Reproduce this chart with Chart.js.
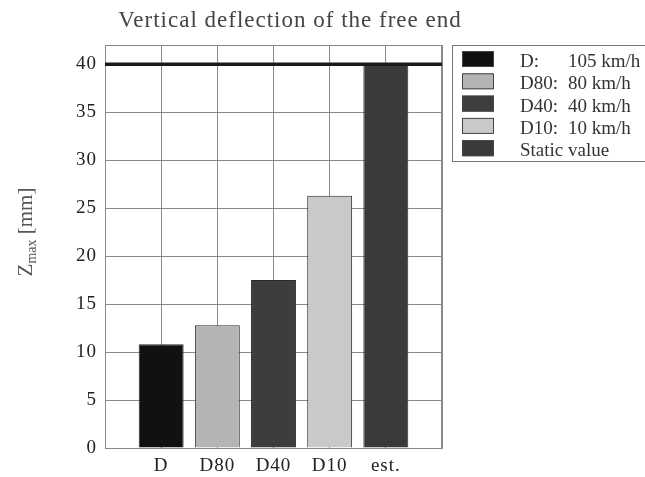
<!DOCTYPE html>
<html>
<head>
<meta charset="utf-8">
<script src="https://cdn.jsdelivr.net/npm/chart.js@4.4.1/dist/chart.umd.min.js"></script>
<style>
    html, body { margin: 0; padding: 0; background: #fff; }
    #wrap { position: relative; width: 645px; height: 477px; }
</style>
</head>
<body>
<div id="wrap"><canvas id="deflectionChart"></canvas></div>
<script>
// Chart data
const categories = ['', 'D', 'D80', 'D40', 'D10', 'est.', ''];
const deflection = [null, 10.8, 12.8, 17.5, 26.3, 40, null];
const staticValue = [40, 40, 40, 40, 40, 40, 40];
const barColors = ['#ffffff', '#111111', '#b4b4b4', '#3d3d3d', '#c9c9c9', '#3a3a3a', '#ffffff'];
const legendNames = ['D:', 'D80:', 'D40:', 'D10:', 'Static value'];
const legendSpeeds = ['105 km/h', '80 km/h', '40 km/h', '10 km/h', ''];
const legendColors = ['#111111', '#b4b4b4', '#3d3d3d', '#c9c9c9', '#3a3a3a'];
const titleText = 'Vertical deflection of the free end';

const SERIF = '"Liberation Serif", "Times New Roman", serif';

// title, y axis title with subscript, frame and legend box
const decorPlugin = {
    id: 'decor',
    beforeDraw(chart) {
        chart.ctx.letterSpacing = '1px';
    },
    beforeDatasetsDraw(chart) {
        const ctx = chart.ctx;
        const a = chart.chartArea;
        ctx.letterSpacing = '0px';
        ctx.save();
        ctx.strokeStyle = '#8a8a8a';
        ctx.lineWidth = 1;
        ctx.strokeRect(a.left + 0.5, a.top + 0.5, a.right - a.left - 1, a.bottom - a.top);
        ctx.restore();
    },
    afterDraw(chart) {
        const ctx = chart.ctx;

        // title
        ctx.save();
        ctx.font = '23px ' + SERIF;
        ctx.letterSpacing = '1px';
        ctx.fillStyle = '#444';
        ctx.textAlign = 'center';
        ctx.textBaseline = 'alphabetic';
        ctx.fillText(titleText, 290, 27);
        ctx.restore();

        // y axis title: Z_max [mm]
        ctx.save();
        ctx.translate(26, 232);
        ctx.rotate(-Math.PI / 2);
        ctx.fillStyle = '#555';
        ctx.textBaseline = 'middle';
        ctx.textAlign = 'left';
        const big = '21px ' + SERIF;
        const small = '14px ' + SERIF;
        ctx.font = big;
        const wZ = ctx.measureText('Z').width;
        const wRest = ctx.measureText(' [mm]').width;
        ctx.font = small;
        const wSub = ctx.measureText('max').width;
        let x = -(wZ + wSub + wRest) / 2;
        ctx.font = big;
        ctx.fillText('Z', x, 0);
        x += wZ;
        ctx.font = small;
        ctx.fillText('max', x, 6);
        x += wSub;
        ctx.font = big;
        ctx.fillText(' [mm]', x, 0);
        ctx.restore();

        // legend
        ctx.save();
        ctx.strokeStyle = '#777';
        ctx.lineWidth = 1;
        ctx.strokeRect(452.5, 45.5, 220, 116);
        ctx.font = '19px ' + SERIF;
        ctx.textBaseline = 'alphabetic';
        legendNames.forEach((name, i) => {
            const top = 51 + i * 22.3;
            ctx.fillStyle = legendColors[i];
            ctx.fillRect(462, top, 32, 16);
            ctx.strokeStyle = '#444';
            ctx.strokeRect(462.5, top + 0.5, 31, 15);
            ctx.fillStyle = '#333';
            ctx.fillText(name, 520, top + 16);
            if (legendSpeeds[i]) ctx.fillText(legendSpeeds[i], 568, top + 16);
        });
        ctx.restore();
    }
};

const ctx = document.getElementById('deflectionChart');

new Chart(ctx, {
    data: {
        labels: categories,
        datasets: [{
            type: 'line',
            label: 'Static value',
            data: staticValue,
            borderColor: '#1a1a1a',
            borderWidth: 3.5,
            pointRadius: 0,
            order: 0
        }, {
            type: 'bar',
            label: 'Deflection',
            data: deflection,
            backgroundColor: barColors,
            borderColor: '#2a2a2a',
            borderWidth: 1,
            categoryPercentage: 1,
            barPercentage: 0.8,
            order: 1
        }]
    },
    options: {
        responsive: true,
        maintainAspectRatio: false,
        animation: false,
        layout: {
            padding: { top: 45, right: 203, bottom: 0, left: 0 }
        },
        plugins: {
            legend: { display: false },
            title: { display: false },
            tooltip: { enabled: false }
        },
        scales: {
            x: {
                offset: false,
                grid: {
                    offset: false,
                    color: '#8a8a8a',
                    drawTicks: false
                },
                border: { color: '#8a8a8a' },
                ticks: {
                    color: '#222',
                    padding: 7,
                    autoSkip: false,
                    maxRotation: 0,
                    font: { family: SERIF, size: 19 }
                },
                afterFit(scale) { scale.height = 29; }
            },
            y: {
                min: 0,
                max: 42,
                bounds: 'data',
                grid: {
                    color: '#8a8a8a',
                    drawTicks: false
                },
                border: { color: '#8a8a8a' },
                ticks: {
                    stepSize: 5,
                    color: '#222',
                    padding: 8,
                    font: { family: SERIF, size: 19 }
                },
                afterBuildTicks(scale) {
                    scale.ticks = scale.ticks.filter(t => t.value % 5 === 0);
                },
                afterFit(scale) { scale.width = 105; }
            }
        }
    },
    plugins: [decorPlugin]
});
</script>
</body>
</html>
